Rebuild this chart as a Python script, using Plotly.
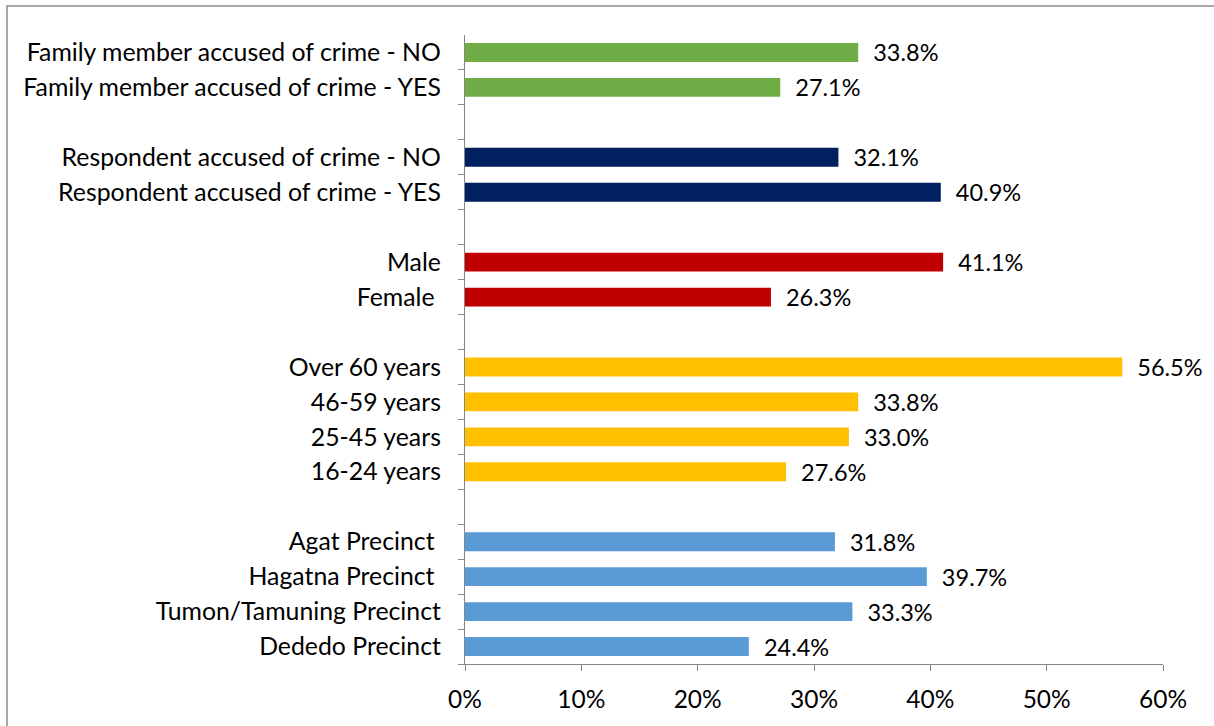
import plotly.graph_objects as go

NB = "\u00a0"
# categories from top to bottom (gaps are blank slots)
categories = [
    "Family member accused of crime - NO",
    "Family member accused of crime - YES",
    "gap1",
    "Respondent accused of crime - NO",
    "Respondent accused of crime - YES",
    "gap2",
    "Male",
    "Female" + NB,
    "gap3",
    "Over 60 years",
    "46-59 years",
    "25-45 years",
    "16-24 years",
    "gap4",
    "Agat Precinct" + NB,
    "Hagatna Precinct" + NB,
    "Tumon/Tamuning Precinct",
    "Dededo Precinct",
]
values = [33.8, 27.1, None, 32.1, 40.9, None, 41.1, 26.3, None,
          56.5, 33.8, 33.0, 27.6, None, 31.8, 39.7, 33.3, 24.4]
group_colors = {
    "family": "#70AD47",
    "respondent": "#002060",
    "gender": "#C00000",
    "age": "#FFC000",
    "precinct": "#5B9BD5",
}
groups = ["family", "family", None, "respondent", "respondent", None,
          "gender", "gender", None, "age", "age", "age", "age", None,
          "precinct", "precinct", "precinct", "precinct"]

tick_text = ["" if c.startswith("gap") else c for c in categories]
colors = [group_colors[g] if g else "rgba(0,0,0,0)" for g in groups]
labels = ["" if v is None else NB * 2 + f"{v:.1f}%" for v in values]

FONT = "Lato, Calibri, sans-serif"

fig = go.Figure(go.Bar(
    x=values, y=categories, orientation="h",
    marker=dict(color=colors, line=dict(width=0)),
    text=labels, textposition="outside", cliponaxis=False,
    constraintext="none",
    textfont=dict(family=FONT, size=23.5, color="#000000"),
    hoverinfo="skip",
))

fig.update_layout(
    width=1214, height=726,
    margin=dict(l=465, r=51, t=35, b=62, autoexpand=False),
    paper_bgcolor="white", plot_bgcolor="white",
    bargap=0.46, showlegend=False,
    font=dict(family=FONT, size=24, color="#000000"),
)
fig.update_xaxes(
    range=[0, 60], dtick=10, ticksuffix="%",
    showgrid=False, zeroline=False, automargin=False,
    showline=True, linecolor="#868686", linewidth=1.3,
    ticks="outside", ticklen=6, tickcolor="#868686", tickwidth=1.3,
    tickfont=dict(family=FONT, size=24.5, color="#000000"),
    ticklabelstandoff=7,
)
fig.update_yaxes(
    type="category", categoryorder="array", categoryarray=categories[::-1],
    autorange=False, range=[-0.5, len(categories) - 0.5],
    tickmode="array", tickvals=categories, ticktext=tick_text,
    tickson="boundaries", automargin=False,
    showgrid=False, zeroline=False,
    showline=True, linecolor="#868686", linewidth=1.3,
    ticks="outside", ticklen=6, tickcolor="#868686", tickwidth=1.3,
    tickfont=dict(family=FONT, size=24.8, color="#000000"),
    ticklabelstandoff=18,
)

# outer chart border
fig.add_shape(type="rect", xref="paper", yref="paper",
              x0=-0.6562, x1=1.09, y0=-0.11, y1=1.0461,
              line=dict(color="#8C8C8C", width=1.5), fillcolor="rgba(0,0,0,0)",
              layer="below")

fig.write_html("out.html", config={"displayModeBar": False},
               post_script="document.body.style.margin='0';document.body.style.overflow='hidden';")
